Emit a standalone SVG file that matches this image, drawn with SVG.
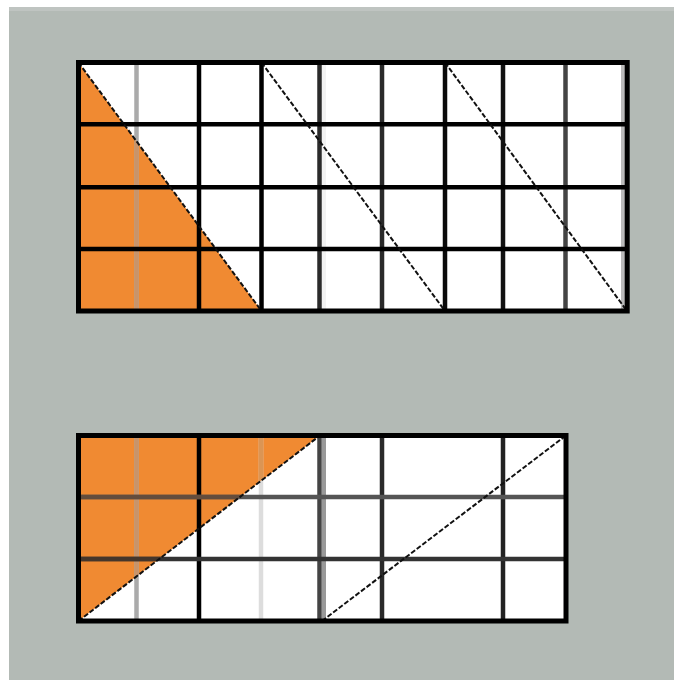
<svg xmlns="http://www.w3.org/2000/svg" width="674" height="680" viewBox="0 0 674 680">
  <style>
    .cell { fill: #ffffff; }
    .fill { fill: #f08a32; }
    .border { fill: none; stroke: #000; stroke-width: 5; }
    .ln { stroke-width: 4.5; fill: none; }
    .diag { stroke: #111111; stroke-width: 2; fill: none; stroke-dasharray: 5 2; }
  </style>
  <defs>
    <clipPath id="clipTop"><polygon points="78.5,62.5 78.5,311 261.5,311"/></clipPath>
    <clipPath id="clipBot"><polygon points="78.5,435.5 320,435.5 78.5,621"/></clipPath>
  </defs>
  <rect x="0" y="0" width="674" height="680" fill="#ffffff"/>
  <rect x="9" y="7" width="665" height="673" fill="#b3bab5"/>
  <rect x="9" y="7" width="665" height="4" fill="#bfc4c1"/>

  <g id="top-grid">
    <rect class="cell" x="78.5" y="62.5" width="548.5" height="248.5"/>
    <polygon class="fill" points="78.5,62.5 78.5,311 261.5,311"/>
    <g class="ln">
      <line x1="324" y1="62.5" x2="324" y2="311" stroke="#f2f2f2" stroke-width="4"/>
      <line x1="623" y1="62.5" x2="623" y2="311" stroke="#bbbbbb" stroke-width="4"/>
      <line x1="136.5" y1="62.5" x2="136.5" y2="311" stroke="#aaaaaa"/>
      <line x1="136.5" y1="62.5" x2="136.5" y2="311" stroke="#c9946a" clip-path="url(#clipTop)"/>
      <line x1="199" y1="62.5" x2="199" y2="311" stroke="#000"/>
      <line x1="261.5" y1="62.5" x2="261.5" y2="311" stroke="#000"/>
      <line x1="319.5" y1="62.5" x2="319.5" y2="311" stroke="#2a2a2a"/>
      <line x1="382" y1="62.5" x2="382" y2="311" stroke="#2a2a2a"/>
      <line x1="445" y1="62.5" x2="445" y2="311" stroke="#0a0a0a"/>
      <line x1="503" y1="62.5" x2="503" y2="311" stroke="#111"/>
      <line x1="565.5" y1="62.5" x2="565.5" y2="311" stroke="#444"/>
      <line x1="78.5" y1="124.2" x2="627" y2="124.2" stroke="#000"/>
      <line x1="78.5" y1="187.2" x2="627" y2="187.2" stroke="#000"/>
      <line x1="78.5" y1="249" x2="627" y2="249" stroke="#000"/>
    </g>
    <line class="diag" x1="78.5" y1="62.5" x2="261.5" y2="311"/>
    <line class="diag" x1="261.5" y1="62.5" x2="445" y2="311"/>
    <line class="diag" x1="445" y1="62.5" x2="627" y2="311"/>
    <rect class="border" x="78.5" y="62.5" width="548.7" height="248.5"/>
  </g>

  <g id="bottom-grid">
    <rect class="cell" x="78.5" y="435.5" width="487.5" height="185.5"/>
    <polygon class="fill" points="78.5,435.5 320,435.5 78.5,621"/>
    <g class="ln">
      <line x1="324" y1="435.5" x2="324" y2="621" stroke="#999999" stroke-width="4"/>
      <line x1="136.5" y1="435.5" x2="136.5" y2="621" stroke="#aaaaaa"/>
      <line x1="136.5" y1="435.5" x2="136.5" y2="621" stroke="#c9946a" clip-path="url(#clipBot)"/>
      <line x1="199" y1="435.5" x2="199" y2="621" stroke="#000"/>
      <line x1="261" y1="435.5" x2="261" y2="621" stroke="#dddddd"/>
      <line x1="261" y1="435.5" x2="261" y2="621" stroke="#db9554" clip-path="url(#clipBot)"/>
      <line x1="319.5" y1="435.5" x2="319.5" y2="621" stroke="#444"/>
      <line x1="382" y1="435.5" x2="382" y2="621" stroke="#2a2a2a"/>
      <line x1="503" y1="435.5" x2="503" y2="621" stroke="#222"/>
      <line x1="78.5" y1="497" x2="566" y2="497" stroke="#555"/>
      <line x1="78.5" y1="497" x2="566" y2="497" stroke="#634d3d" clip-path="url(#clipBot)"/>
      <line x1="78.5" y1="559" x2="566" y2="559" stroke="#333"/>
      <line x1="78.5" y1="559" x2="566" y2="559" stroke="#45362b" clip-path="url(#clipBot)"/>
    </g>
    <line class="diag" x1="78.5" y1="621" x2="320" y2="435.5"/>
    <line class="diag" x1="322" y1="621" x2="566" y2="435.5"/>
    <rect class="border" x="78.5" y="435.5" width="487.5" height="185.5"/>
  </g>
</svg>
